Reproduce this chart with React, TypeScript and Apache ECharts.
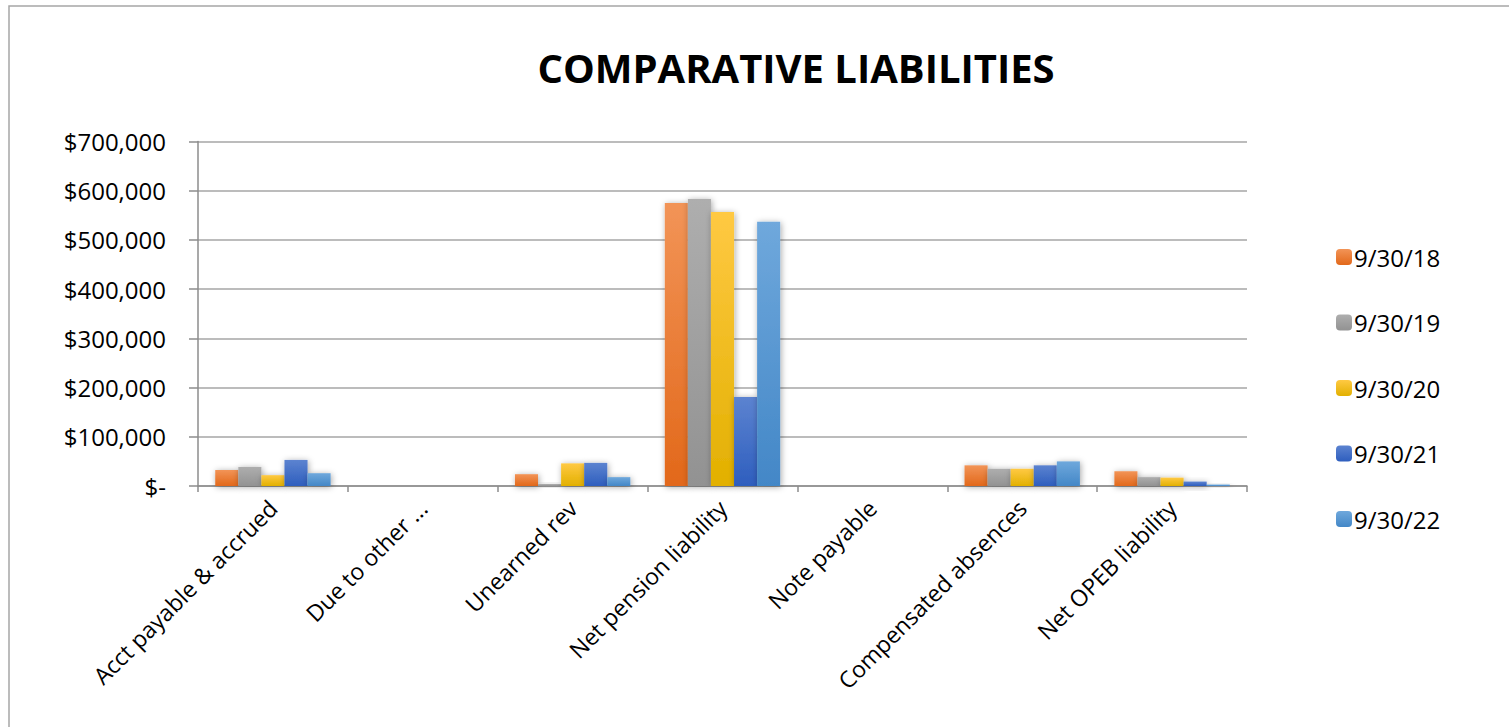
import React, { useEffect, useRef } from "react";
import * as echarts from "echarts";

const categories = [
  "Acct payable & accrued",
  "Due to other ...",
  "Unearned rev",
  "Net pension liability",
  "Note payable",
  "Compensated absences",
  "Net OPEB liability",
];
const seriesNames = ["9/30/18", "9/30/19", "9/30/20", "9/30/21", "9/30/22"];
const v18 = [32500, 0, 24000, 575000, 0, 42000, 30000];
const v19 = [38500, 0, 4000, 583000, 0, 35000, 18000];
const v20 = [22000, 0, 46000, 557000, 0, 35000, 17000];
const v21 = [53000, 0, 47000, 181000, 0, 42000, 9000];
const v22 = [26000, 0, 18000, 537000, 0, 50000, 3000];

const gradients = [
  ["#F29457", "#E2681A"],
  ["#AEAEAE", "#929292"],
  ["#FFC943", "#E2B000"],
  ["#5C83D0", "#2E5EBE"],
  ["#6FA8DC", "#4387C7"],
];

export default function App() {
  const ref = useRef<HTMLDivElement>(null);
  useEffect(() => {
    const chart = echarts.init(ref.current!, null, { renderer: "svg" });
    const data = [v18, v19, v20, v21, v22];
    const font = "Open Sans, Liberation Sans, sans-serif";
    chart.setOption({
      animation: false,
      backgroundColor: "#fff",
      title: {
        text: "COMPARATIVE LIABILITIES",
        left: 791,
        textAlign: "center",
        top: 42,
        textStyle: { fontFamily: font, fontWeight: "bold", fontSize: 40, color: "#000" },
      },
      graphic: [
        {
          type: "rect",
          shape: { x: 9, y: 6, width: 1520, height: 740 },
          style: { fill: "none", stroke: "#a6a6a6", lineWidth: 1.5 },
          silent: true,
        },
      ],
      legend: {
        orient: "vertical",
        left: 1331,
        top: 240,
        itemWidth: 16,
        itemHeight: 16,
        itemGap: 41.5,
        textStyle: { fontFamily: font, fontSize: 24, color: "#000", padding: [0, 0, 0, -3] },
        data: seriesNames,
      },
      grid: { left: 198, right: 262, top: 141.5, bottom: 241, containLabel: false },
      xAxis: {
        type: "category",
        data: categories,
        axisLine: { lineStyle: { color: "#8c8c8c", width: 1.5 } },
        axisTick: { show: true, length: 6, lineStyle: { color: "#8c8c8c", width: 1.5 } },
        axisLabel: {
          rotate: 45,
          interval: 0,
          margin: 18,
          fontFamily: font,
          fontSize: 23,
          color: "#000",
        },
      },
      yAxis: {
        type: "value",
        min: 0,
        max: 700000,
        interval: 100000,
        axisLine: { show: true, lineStyle: { color: "#8c8c8c", width: 1.5 } },
        axisTick: { show: true, length: 9, lineStyle: { color: "#8c8c8c", width: 1.5 } },
        splitLine: { lineStyle: { color: "#a6a6a6", width: 1.5 } },
        axisLabel: {
          margin: 32,
          fontFamily: font,
          fontSize: 24,
          color: "#000",
          formatter: (v: number) => (v === 0 ? "$-" : "$" + v.toLocaleString("en-US")),
        },
      },
      series: seriesNames.map((name, i) => ({
        name,
        type: "bar",
        data: data[i],
        barGap: "0%",
        barCategoryGap: "23%",
        itemStyle: {
          color: new echarts.graphic.LinearGradient(0, 0, 0, 1, [
            { offset: 0, color: gradients[i][0] },
            { offset: 1, color: gradients[i][1] },
          ]),
          shadowColor: "rgba(0,0,0,0.35)",
          shadowBlur: 6,
          shadowOffsetX: 1,
          shadowOffsetY: 1,
        },
      })),
    });
    return () => chart.dispose();
  }, []);
  return (
    <div
      ref={ref}
      style={{ position: "absolute", left: 0, top: 0, width: 1509, height: 727 }}
    />
  );
}
